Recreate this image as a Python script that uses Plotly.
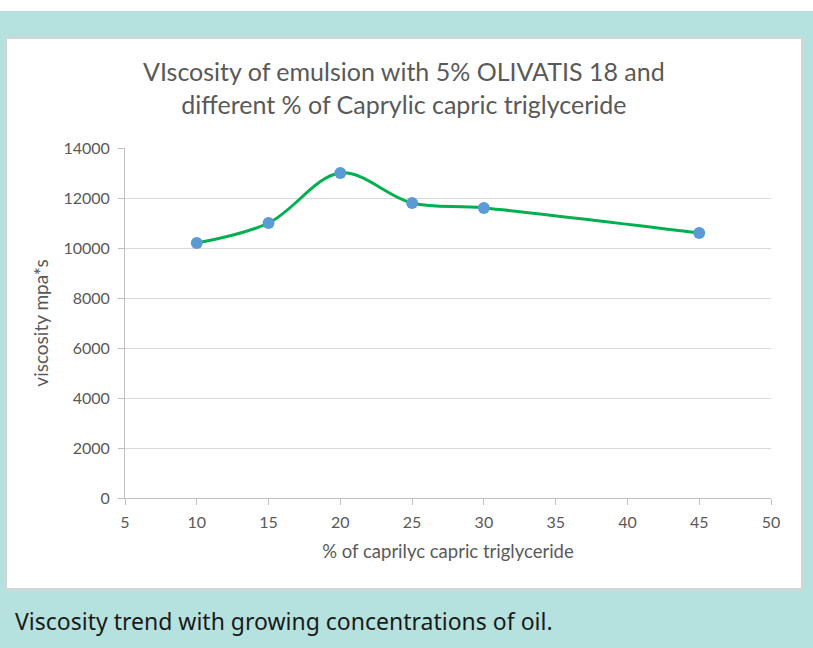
import plotly.graph_objects as go

x_pct = [10, 15, 20, 25, 30, 45]
viscosity = [10200, 11000, 13000, 11800, 11600, 10600]
x_ticks = [5, 10, 15, 20, 25, 30, 35, 40, 45, 50]
y_ticks = [0, 2000, 4000, 6000, 8000, 10000, 12000, 14000]

W, H = 813, 648
L, R, T, B = 125, 771, 148, 498

def px(x):
    return (x - L) / (R - L)

def py(y):
    return (B - y) / (B - T)

fig = go.Figure()
fig.add_trace(go.Scatter(
    x=x_pct, y=viscosity, mode="lines+markers",
    line=dict(color="#00b050", width=3, shape="spline", smoothing=1),
    marker=dict(color="#5b9bd5", size=12),
    showlegend=False, hoverinfo="x+y"))

tickfont = dict(family="Lato, Carlito, sans-serif", size=16, color="#595959")
fig.update_layout(
    width=W, height=H,
    margin=dict(l=L, r=W - R, t=T, b=H - B, pad=0),
    paper_bgcolor="#b5e2de", plot_bgcolor="white",
    xaxis=dict(range=[5, 50], tickvals=x_ticks, showgrid=False,
               showline=True, linecolor="#bfbfbf", linewidth=1,
               ticks="outside", ticklen=6, tickcolor="#bfbfbf",
               ticklabelstandoff=4,
               tickfont=tickfont, zeroline=False,
               title=dict(text="% of caprilyc capric triglyceride",
                          font=dict(family="Lato, sans-serif", size=18.5, color="#595959"),
                          standoff=14)),
    yaxis=dict(range=[0, 14000], tickvals=y_ticks, tickformat="d", showgrid=True,
               gridcolor="#d9d9d9", gridwidth=1,
               showline=True, linecolor="#bfbfbf", linewidth=1,
               ticks="outside", ticklen=6, tickcolor="#bfbfbf",
               ticklabelstandoff=5,
               tickfont=tickfont, zeroline=False,
               title=dict(text="viscosity mpa*s",
                          font=dict(family="Lato, sans-serif", size=19, color="#595959"),
                          standoff=9)),
    shapes=[
        dict(type="rect", xref="paper", yref="paper",
             x0=px(-5), x1=px(W + 5), y0=py(-5), y1=py(11),
             fillcolor="white", line=dict(width=0), layer="below"),
        dict(type="rect", xref="paper", yref="paper",
             x0=px(6), x1=px(802), y0=py(589), y1=py(38),
             fillcolor="white", line=dict(color="#d4d4d4", width=2), layer="below"),
    ],
    annotations=[
        dict(text="VIscosity of emulsion with 5% OLIVATIS 18 and<br>different % of Caprylic capric triglyceride",
             xref="paper", yref="paper", x=px(404), y=py(88),
             xanchor="center", yanchor="middle", showarrow=False,
             font=dict(family="Lato, sans-serif", size=25, color="#595959")),
        dict(text="Viscosity trend with growing concentrations of oil.",
             xref="paper", yref="paper", x=px(13), y=py(621),
             xanchor="left", yanchor="middle", showarrow=False,
             font=dict(family="Noto Sans, sans-serif", size=23, color="#1a1a1a")),
    ],
)
fig.write_html("out.html", config={"displayModeBar": False},
               post_script="document.body.style.margin='0';")
